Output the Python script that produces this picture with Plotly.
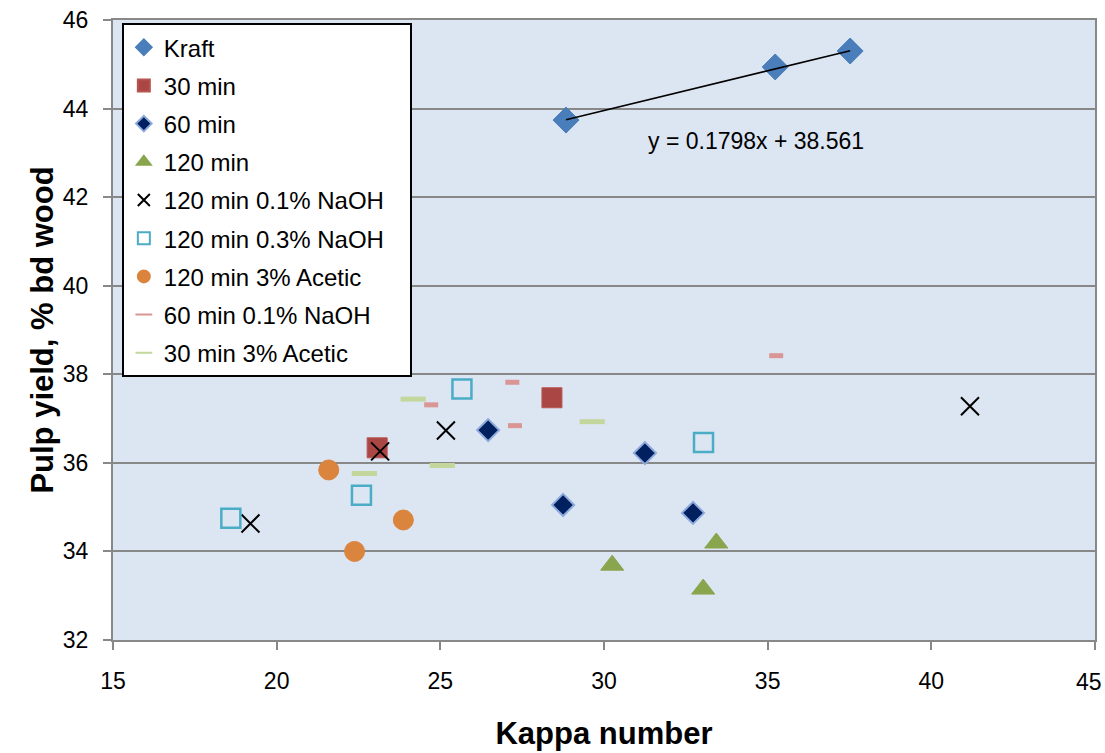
import plotly.graph_objects as go
import numpy as np

# ---- data ----
kraft_x = [28.84, 35.23, 37.52]
kraft_y = [43.74, 44.94, 45.30]

min30_x = [23.07, 28.41]
min30_y = [36.34, 37.47]

min60_x = [26.46, 28.75, 31.25, 32.72]
min60_y = [36.74, 35.05, 36.22, 34.87]

min120_x = [30.25, 33.43, 33.03]
min120_y = [33.69, 34.19, 33.15]

naoh01_x = [19.20, 23.16, 25.17, 41.18]
naoh01_y = [34.63, 36.26, 36.73, 37.28]

naoh03_x = [18.60, 22.59, 25.66, 33.04]
naoh03_y = [34.75, 35.27, 37.67, 36.46]

acetic120_x = [21.59, 23.87, 22.38]
acetic120_y = [35.84, 34.71, 34.00]

naoh60_x = [24.72, 27.20, 27.28, 35.26]
naoh60_y = [37.31, 37.82, 36.84, 38.42]

acetic30_x = [24.17, 22.68, 25.06, 29.64]
acetic30_y = [37.44, 35.76, 35.94, 36.93]

x_tickvals = [15, 20, 25, 30, 35, 40, 45]
x_ticktext = ["15", "20", "25", "30", "35", "40", "45"]

trend_slope = 0.1798
trend_intercept = 38.561
trend_label = "y = 0.1798x + 38.561"

fig = go.Figure()

def add(name, x, y, marker, group):
    fig.add_trace(go.Scatter(x=x, y=y, mode="markers", name=name, marker=marker,
                             legendgroup=group))

pad = "\u00a0\u00a0\u00a0"  # widen legend box a little

add("Kraft", kraft_x, kraft_y,
    dict(symbol="diamond", size=20, color="#4A7EBB", line=dict(color="#4A7EBB", width=1)), "g1")
add("30 min", min30_x, min30_y,
    dict(symbol="square", size=20, color="#AA4643", line=dict(color="#B85450", width=1)), "g2")
add("60 min", min60_x, min60_y,
    dict(symbol="diamond", size=17, color="#002060", line=dict(color="#8EA9DB", width=2)), "g3")
add("120 min", min120_x, min120_y,
    dict(symbol="triangle-up", size=20, color="#89A54E", line=dict(color="#89A54E", width=1)), "g4")
add("120 min 0.1% NaOH" + pad, naoh01_x, naoh01_y,
    dict(symbol="x-thin", size=18, color="black", line=dict(color="black", width=2)), "g5")
add("120 min 0.3% NaOH", naoh03_x, naoh03_y,
    dict(symbol="square-open", size=19, color="#4BACC6", line=dict(color="#4BACC6", width=2.5)), "g6")
add("120 min 3% Acetic", acetic120_x, acetic120_y,
    dict(symbol="circle", size=20, color="#DB843D", line=dict(color="#DB843D", width=1)), "g7")
add("60 min 0.1% NaOH", naoh60_x, naoh60_y,
    dict(symbol="line-ew", size=10, color="#D99694", line=dict(color="#D99694", width=5)), "g8")
add("30 min 3% Acetic", acetic30_x, acetic30_y,
    dict(symbol="line-ew", size=18, color="#C3D69B", line=dict(color="#C3D69B", width=5)), "g9")

# trendline for Kraft
tx = np.array([min(kraft_x), max(kraft_x)])
ty = trend_slope * tx + trend_intercept
fig.add_trace(go.Scatter(x=tx, y=ty, mode="lines", line=dict(color="black", width=1.5),
                         showlegend=False, hoverinfo="skip"))

fig.add_annotation(x=34.65, y=43.26, text=trend_label, showarrow=False,
                   font=dict(family="Liberation Sans, Arial", size=23, color="black"))

tickfont = dict(family="Liberation Sans Narrow, Liberation Sans, Arial", size=23, color="black")

# last x tick label is pulled slightly inside the page (as in the reference)
shown_text = x_ticktext[:-1] + [""]
fig.add_annotation(x=x_tickvals[-1], xref="x", y=0, yref="paper", text=x_ticktext[-1],
                   showarrow=False, xanchor="center", yanchor="middle", xshift=-6, yshift=-42,
                   font=tickfont)

fig.update_layout(
    width=1105, height=753,
    margin=dict(l=113, r=10, t=20, b=113),
    paper_bgcolor="white",
    plot_bgcolor="#DCE6F2",
    font=dict(family="Liberation Sans, Arial", color="black"),
    showlegend=True,
    legend=dict(x=0.009, y=0.995, xanchor="left", yanchor="top",
                bgcolor="white", bordercolor="black", borderwidth=2,
                font=dict(size=24, color="black"), tracegroupgap=4,
                itemsizing="constant"),
    xaxis=dict(range=[15, 45], tickmode="array", tickvals=x_tickvals, ticktext=shown_text,
               showgrid=False, zeroline=False, automargin=False,
               showline=True, linecolor="#888888", linewidth=2, mirror=True,
               ticks="outside", ticklen=8, tickcolor="#888888", tickwidth=2,
               tickfont=tickfont, ticklabelstandoff=11, ticklabeloverflow="allow",
               title=dict(text="<b>Kappa number</b>", font=dict(size=31), standoff=30)),
    yaxis=dict(range=[32, 46], dtick=2, showgrid=True, gridcolor="#888888", gridwidth=2,
               zeroline=False, showline=True, linecolor="#888888", linewidth=2, mirror=True,
               automargin=False,
               ticks="outside", ticklen=8, tickcolor="#888888", tickwidth=2,
               tickfont=tickfont, ticklabelstandoff=10, ticklabeloverflow="allow",
               title=dict(text="<b>Pulp yield, % bd wood</b>", font=dict(size=31), standoff=0)),
)

fig.write_html("out.html", config={"displayModeBar": False},
               post_script="document.body.style.margin='0';document.body.style.overflow='hidden';")
